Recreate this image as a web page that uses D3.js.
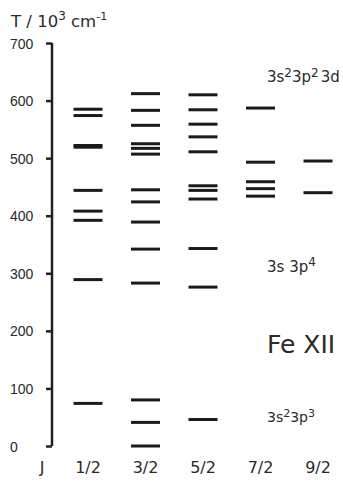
<!DOCTYPE html>
<html>
<head>
<meta charset="utf-8">
<script src="https://cdn.jsdelivr.net/npm/d3@7"></script>
<style>
body{margin:0;background:#fff;}
svg{font-family:"DejaVu Sans",Arial,sans-serif;}
.axis path,.axis line{stroke:#222;stroke-width:2.5;}
.axis text{font-size:14px;fill:#2a2a2a;}
.t{fill:#2a2a2a;}
</style>
</head>
<body>
<svg width="343" height="483"></svg>
<script>
// J values (columns)
var jLabels = ["1/2","3/2","5/2","7/2","9/2"];
// energy levels per column, 10^3 cm-1
var lev12 = [74, 289, 392, 408, 444, 519, 522, 574, 585];
var lev32 = [0, 41, 80, 283, 342, 389, 424, 445, 507, 517, 525, 557, 583, 612];
var lev52 = [46, 276, 343, 429, 444, 452, 511, 537, 559, 584, 610];
var lev72 = [434, 447, 459, 493, 587];
var lev92 = [440, 495];
var yTicks = [0,100,200,300,400,500,600,700];

var levels = [lev12, lev32, lev52, lev72, lev92];

var svg = d3.select("svg");

var x = d3.scalePoint().domain(jLabels).range([88, 318]);
var y = d3.scaleLinear().domain([0,700]).range([446, 43]);
var barW = 29;

// axis
var yAxis = d3.axisLeft(y).tickValues(yTicks).tickSize(6).tickSizeOuter(0);
var g = svg.append("g").attr("class","axis").attr("transform","translate(52,0)").call(yAxis);
g.select(".domain").attr("d","M0,"+y(700)+"V"+y(0));
// labels sit flush left
g.selectAll(".tick text").attr("x",-42).attr("text-anchor","start").attr("dy","0.36em");

// levels
var rows = [];
levels.forEach(function(arr,i){
	arr.forEach(function(v){ rows.push({j:jLabels[i], v:v}); });
});
svg.append("g").selectAll("line").data(rows).enter().append("line")
	.attr("x1",function(d){return x(d.j)-barW/2;})
	.attr("x2",function(d){return x(d.j)+barW/2;})
	.attr("y1",function(d){return y(d.v);})
	.attr("y2",function(d){return y(d.v);})
	.attr("stroke","#1a1a1a").attr("stroke-width",3);

// J labels
svg.append("text").attr("class","t").attr("x",42).attr("y",473).attr("text-anchor","middle").style("font-size","16px").text("J");
svg.append("g").selectAll("text").data(jLabels).enter().append("text")
	.attr("class","t").attr("x",function(d){return x(d);}).attr("y",473)
	.attr("text-anchor","middle").style("font-size","16px").text(function(d){return d;});

// title
svg.append("text").attr("class","t").attr("x",11).attr("y",27).style("font-size","16.5px")
	.html('T / 10<tspan dy="-7" font-size="12">3</tspan><tspan dy="7"> cm</tspan><tspan dy="-7" font-size="11">-1</tspan>');

// configurations
svg.append("text").attr("class","t").attr("x",267).attr("y",82).style("font-size","15px")
	.html('3s<tspan dy="-5" font-size="12">2</tspan><tspan dy="5">3p</tspan><tspan dy="-5" font-size="12">2</tspan><tspan dy="5" dx="2">3d</tspan>');
svg.append("text").attr("class","t").attr("x",267).attr("y",272).style("font-size","15px")
	.html('3s 3p<tspan dy="-6" font-size="12">4</tspan>');
svg.append("text").attr("class","t").attr("x",267).attr("y",353).style("font-size","25px").text("Fe XII");
svg.append("text").attr("class","t").attr("x",267).attr("y",422).style("font-size","14px")
	.html('3s<tspan dy="-5" font-size="11">2</tspan><tspan dy="5">3p</tspan><tspan dy="-5" font-size="11">3</tspan>');
</script>
</body>
</html>
